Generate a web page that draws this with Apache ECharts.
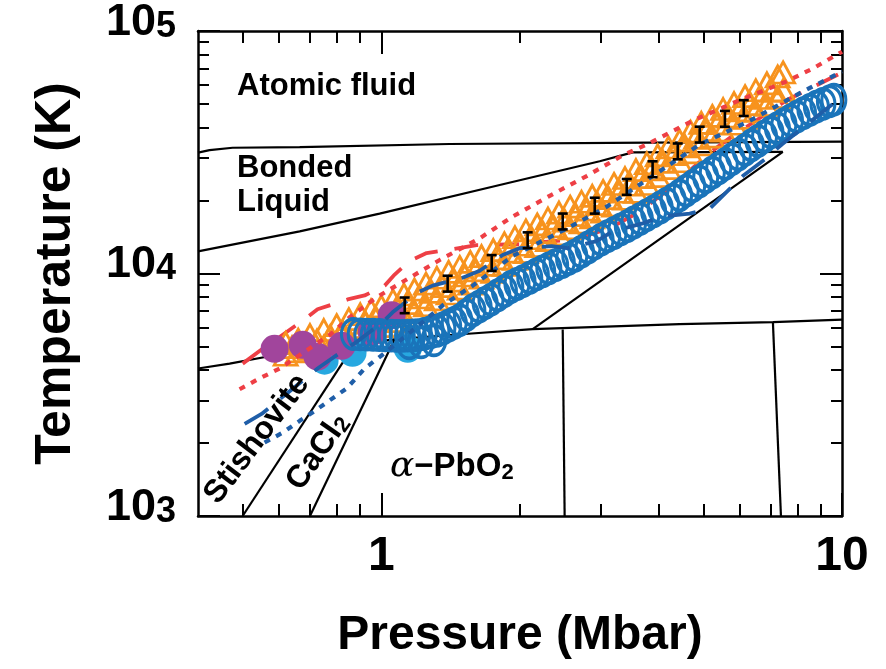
<!DOCTYPE html>
<html><head><meta charset="utf-8">
<script src="https://cdn.jsdelivr.net/npm/echarts@6/dist/echarts.min.js"></script>
<style>html,body{margin:0;padding:0;background:#fff}#c{width:886px;height:669px}</style>
</head><body><div id="c"></div>
<script>
// ---- axis ticks ----
const xMajorTicks = [1, 10];
const xTickLabels = ['1', '10'];
const xMinorTicks = [0.5, 0.6, 0.7, 0.8, 0.9, 2, 3, 4, 5, 6, 7, 8, 9];
const yMajorTicks = [1000, 10000, 100000];
const yTickExps = ['3', '4', '5'];
const yMinorTicks = [2000, 3000, 4000, 5000, 6000, 7000, 8000, 9000, 20000, 30000, 40000, 50000, 60000, 70000, 80000, 90000];

// ---- phase boundaries (P in Mbar, T in K) ----
const bndAtomic = [[0.4,31500],[0.4238,32260],[0.4755,33000],[0.665,33190],[1.406,34200],[3.82,34680],[10,35010]];
const bndBonded = [[0.4,12340],[0.665,14920],[0.9915,17660],[1.807,23180],[2.979,29030],[3.513,31580],[7.44,31730]];
const bndMelt = [[0.4,4056],[0.4685,4250],[0.5635,4538],[0.772,4984],[1.096,5373],[1.517,5630],[2.131,5900],[4.44,6183],[7.08,6300],[10,6450]];
const bndStiCaCl = [[0.5,1000],[0.8706,5031]];
const bndCaClPbO = [[0.70,1000],[1.069,5373]];
const bndPbOLiq = [[2.131,5900],[7.44,31730]];
const bndVert1 = [[2.476,5872],[2.5,1000]];
const bndVert2 = [[7.08,6300],[7.37,1000]];

// ---- orange open triangles ----
const triP = [0.62,0.66,0.70,0.75,0.80,0.85,0.90,0.95,1.00,1.06,1.12,1.18,1.25,1.32,1.40,1.48,1.56,1.65,1.75,1.85,1.95,2.06,2.18,2.30,2.43,2.57,2.72,2.87,3.03,3.20,3.38,3.57,3.77,3.98,4.20,4.44,4.69,4.95,5.23,5.52,5.83,6.16,6.50,6.87,7.25,7.45];
const triTUpper = [5174,5337,5577,5845,6125,6481,6791,7051,7320,7743,8190,8584,9081,9605,10160,10650,11160,11800,12490,13330,14110,15060,15940,16860,17830,18860,19760,20910,21910,23400,24760,26690,28490,30710,33090,35340,38450,41830,44670,47690,50460,53870,56980,60850,64990,67450];
const triTLower = [4624,4770,4892,4984,5224,5373,5577,5845,6069,6360,6664,6985,7389,7816,8268,8663,9081,9605,10160,10850,11480,12250,12960,13720,14510,15350,16230,17020,18000,19040,20330,21710,23400,25220,27190,29030,31580,34040,36680,38810,41440,43840,46800,49530,53370,56980];
const triPMid = [0.64,0.68,0.725,0.775,0.825,0.875,0.925,0.975,1.03,1.09,1.15,1.215,1.285,1.36,1.44,1.52,1.605,1.70,1.80,1.90,2.005,2.12,2.24,2.365,2.50,2.645,2.795,2.95,3.115,3.29,3.475,3.67,3.875,4.09,4.32,4.565,4.82,5.09,5.375,5.675,5.995,6.33,6.685,7.06];
const triTMid = [4968,5121,5298,5519,5762,6009,6265,6526,6832,7186,7553,7961,8402,8870,9352,9815,10300,10860,11540,12310,13140,13980,14800,15640,16520,17420,18350,19330,20450,21740,23230,24960,26840,28880,31020,33450,36260,39040,41640,44320,47080,49920,52920,56610];

// ---- blue open circles ----
const cirP = [0.87,0.90,0.93,0.96,0.99,1.02,1.05,1.08,1.11,1.14,1.17,1.20,1.24,1.28,1.32,1.36,1.40,1.44,1.48,1.53,1.58,1.63,1.68,1.73,1.79,1.85,1.91,1.97,2.03,2.10,2.17,2.24,2.31,2.39,2.47,2.55,2.63,2.72,2.81,2.90,3.00,3.10,3.20,3.31,3.42,3.53,3.65,3.77,3.90,4.03,4.16,4.30,4.44,4.59,4.74,4.90,5.06,5.23,5.40,5.58,5.77,5.96,6.16,6.36,6.57,6.79,7.01,7.24,7.48,7.73,7.98,8.25,8.52,8.80,9.09,9.39,9.60,1.15,1.22,1.30];
const cirT = [5630,5615,5600,5590,5577,5562,5546,5531,5531,5546,5562,5572,5640,5725,5806,5933,6097,6259,6426,6741,7058,7306,7556,7800,8137,8463,8797,9056,9306,9605,9915,10210,10500,10830,11160,11490,11840,12310,12800,13280,13800,14260,14700,15200,15680,16230,16810,17400,18050,18720,19420,20140,21010,21980,22940,23970,25000,26090,27160,28330,29630,30960,32360,33790,35210,36720,38230,39770,41250,42800,44380,45860,47300,48750,50090,51280,52100,5150,5200,5300];

// ---- filled circles ----
const lightBlueP = [0.753, 0.866, 1.141];
const lightBlueT = [4371, 4712, 4892];
const purpleP = [0.5865, 0.675, 0.727, 0.820, 0.953, 1.053];
const purpleT = [4892, 5078, 4538, 5031, 5738, 6727];

// ---- curves ----
const redDashed = [[0.5,4250],[0.5523,4892],[0.6015,5474],[0.6816,6481],[0.727,7117],[0.845,7816],[0.920,8117],[1.017,8913],[1.069,9897],[1.152,11260],[1.254,12140],[1.386,12490],[1.61,13090],[1.997,13210],[2.63,13840],[3.13,15350],[3.64,18000],[4.27,22750],[4.79,27700],[5.11,30990],[5.76,36680],[6.21,40290],[7.59,51900],[8.64,58610],[10,67480]];
const redDotted = [[0.4924,3332],[0.5443,3693],[0.6015,4056],[0.6816,4757],[0.772,5577],[0.8535,6602],[0.943,7600],[0.9915,8115],[1.152,9605],[1.339,11370],[1.635,13970],[1.928,17170],[2.32,20910],[2.79,25220],[3.34,30700],[3.77,34040],[4.74,42640],[6.00,51900],[7.59,62000],[8.64,70040],[10,82130]];
const blueDotted = [[0.558,2009],[0.6104,2205],[0.665,2468],[0.7165,2710],[0.8416,3363],[0.920,4056],[1.006,4624],[1.229,6300],[1.359,7389],[1.579,8911],[1.928,11800],[2.603,15780],[3.085,18860],[3.88,25220],[4.91,34040],[6.31,42640],[8.1,55410],[10,68100]];
const blueDashed = [[0.505,2399],[0.5496,2635],[0.6324,3268],[0.727,4056],[0.820,4757],[0.884,5224],[1.0065,6300],[1.058,6918],[1.199,8346],[1.292,8913],[1.501,9605],[1.635,10260],[1.834,11920],[1.997,12720],[2.343,12960],[2.539,12720],[2.934,13590],[3.18,14920],[3.694,16090],[4.06,17170],[4.67,17670],[5.16,18510],[5.705,22330],[6.09,25220],[6.80,29580],[7.40,34040],[8.22,39920],[9.18,47260],[10,53370]];

// ---- error-bar points ----
const errP = [1.124,1.393,1.736,2.078,2.476,2.906,3.41,3.88,4.40,4.91,5.57,6.12];
const errT = [7390,9082,11050,13710,16390,19040,22750,26920,31880,37390,43430,48100];
const errLo = [6860,8420,10250,12720,15200,17660,21100,24970,29570,34680,40280,44620];
const errHi = [7960,9790,11910,14780,17670,20530,24530,29020,34370,40310,46820,51850];

const FONT = '"Liberation Sans", Arial, Helvetica, sans-serif';
const zip = (a, b) => a.map((v, i) => [v, b[i]]);

function findIdx(arr, v) {
  return arr.findIndex(t => Math.abs(t - v) / t < 1e-6);
}

const baseX = {type: 'log', logBase: 10, min: 0.4, max: 10, gridIndex: 0, splitLine: {show: false}};
const baseY = {type: 'log', logBase: 10, min: 1000, max: 100000, gridIndex: 0, splitLine: {show: false}};
const tickStyle = {color: '#000', width: 2};
const frameLine = {show: true, onZero: false, lineStyle: {color: '#000', width: 2.5}};

const xAxis = [
  Object.assign({}, baseX, {position: 'bottom', axisLine: frameLine,
    axisTick: {show: true, inside: true, length: 23, lineStyle: tickStyle, customValues: xMajorTicks},
    axisLabel: {show: true, customValues: xMajorTicks, margin: 17, color: '#000', fontSize: 48, fontWeight: 'bold', fontFamily: FONT,
      formatter: v => { const i = findIdx(xMajorTicks, v); return i >= 0 ? xTickLabels[i] : ''; }},
    name: 'Pressure (Mbar)', nameLocation: 'middle', nameGap: 96,
    nameTextStyle: {color: '#000', fontSize: 48, fontWeight: 'bold', fontFamily: FONT}}),
  Object.assign({}, baseX, {position: 'bottom', axisLine: {show: false},
    axisTick: {show: true, inside: true, length: 12, lineStyle: tickStyle, customValues: xMinorTicks}, axisLabel: {show: false}}),
  Object.assign({}, baseX, {position: 'top', axisLine: frameLine,
    axisTick: {show: true, inside: true, length: 23, lineStyle: tickStyle, customValues: xMajorTicks}, axisLabel: {show: false}}),
  Object.assign({}, baseX, {position: 'top', axisLine: {show: false},
    axisTick: {show: true, inside: true, length: 12, lineStyle: tickStyle, customValues: xMinorTicks}, axisLabel: {show: false}})
];

const yAxis = [
  Object.assign({}, baseY, {position: 'left', axisLine: frameLine,
    axisTick: {show: true, inside: true, length: 22, lineStyle: tickStyle, customValues: yMajorTicks},
    axisLabel: {show: true, customValues: yMajorTicks, margin: 22, color: '#000', fontFamily: FONT,
      formatter: v => { const i = findIdx(yMajorTicks, v); return i >= 0 ? '{b|10}{s|' + yTickExps[i] + '}' : ''; },
      rich: {
        b: {fontSize: 45, fontWeight: 'bold', fontFamily: FONT, color: '#000', lineHeight: 44, verticalAlign: 'bottom', padding: [0, 0, 8, 0]},
        s: {fontSize: 36, fontWeight: 'bold', fontFamily: FONT, color: '#000', lineHeight: 36, verticalAlign: 'top', padding: [0, 0, 24, 0]}
      }},
    name: 'Temperature (K)', nameLocation: 'middle', nameGap: 117, nameRotate: 90,
    nameTextStyle: {color: '#000', fontSize: 50, fontWeight: 'bold', fontFamily: FONT}}),
  Object.assign({}, baseY, {position: 'left', axisLine: {show: false},
    axisTick: {show: true, inside: true, length: 11, lineStyle: tickStyle, customValues: yMinorTicks}, axisLabel: {show: false}}),
  Object.assign({}, baseY, {position: 'right', axisLine: frameLine,
    axisTick: {show: true, inside: true, length: 22, lineStyle: tickStyle, customValues: yMajorTicks}, axisLabel: {show: false}}),
  Object.assign({}, baseY, {position: 'right', axisLine: {show: false},
    axisTick: {show: true, inside: true, length: 11, lineStyle: tickStyle, customValues: yMinorTicks}, axisLabel: {show: false}})
];

function blackLine(data) {
  return {type: 'line', data: data, symbol: 'none', silent: true, z: 2,
    lineStyle: {color: '#000', width: 2.2}};
}

const triStyle = {color: 'rgba(0,0,0,0)', borderColor: '#f7931e', borderWidth: 2.8, opacity: 1};

const series = [
  blackLine(bndAtomic), blackLine(bndBonded), blackLine(bndMelt), blackLine(bndStiCaCl),
  blackLine(bndCaClPbO), blackLine(bndPbOLiq), blackLine(bndVert1), blackLine(bndVert2),
  {type: 'line', data: redDashed, symbol: 'none', z: 3,
    lineStyle: {color: '#ee3f45', width: 3.8, type: [24, 17], cap: 'butt'}},
  {type: 'scatter', data: zip(triP, triTUpper).concat(zip(triP, triTLower)), symbol: 'triangle', symbolSize: [23, 21], z: 4,
    itemStyle: triStyle},
  {type: 'scatter', data: zip(triPMid, triTMid), symbol: 'triangle', symbolSize: [23, 21], z: 4,
    itemStyle: triStyle},
  {type: 'scatter', data: zip(lightBlueP, lightBlueT), symbol: 'circle', symbolSize: 28, z: 5,
    itemStyle: {color: '#27a8e0', opacity: 1}},
  {type: 'scatter', data: zip(purpleP, purpleT), symbol: 'circle', symbolSize: 28, z: 6,
    itemStyle: {color: '#a1459c', opacity: 1}},
  {type: 'line', data: redDotted, symbol: 'none', z: 7,
    lineStyle: {color: '#ee3f45', width: 4.2, type: [6, 7], cap: 'butt'}},
  {type: 'scatter', data: zip(cirP, cirT), symbol: 'circle', symbolSize: [24, 30], z: 8,
    itemStyle: {color: 'rgba(0,0,0,0)', borderColor: '#1a74ba', borderWidth: 3.4, opacity: 1}},
  {type: 'line', data: blueDotted, symbol: 'none', z: 9,
    lineStyle: {color: '#1f5ea8', width: 4.2, type: [6, 7], cap: 'butt'}},
  {type: 'line', data: blueDashed, symbol: 'none', z: 10,
    lineStyle: {color: '#1f5ea8', width: 3.8, type: [28, 16], cap: 'butt'}},
  {type: 'custom', z: 11,
    data: errP.map((p, i) => [p, errT[i], errLo[i], errHi[i]]),
    encode: {x: 0, y: 1},
    renderItem: function (params, api) {
      const x = api.value(0);
      const pLo = api.coord([x, api.value(2)]);
      const pHi = api.coord([x, api.value(3)]);
      const cap = 5, st = {stroke: '#000', lineWidth: 2.6};
      return {type: 'group', children: [
        {type: 'line', shape: {x1: pLo[0], y1: pLo[1], x2: pHi[0], y2: pHi[1]}, style: st},
        {type: 'line', shape: {x1: pLo[0] - cap, y1: pLo[1], x2: pLo[0] + cap, y2: pLo[1]}, style: st},
        {type: 'line', shape: {x1: pHi[0] - cap, y1: pHi[1], x2: pHi[0] + cap, y2: pHi[1]}, style: st}
      ]};
    }}
];

const labelFont = 'bold 31px ' + FONT;
const graphic = [
  {type: 'text', left: 237, top: 71, z: 20, style: {text: 'Atomic fluid', font: labelFont, fill: '#000'}},
  {type: 'text', left: 237, top: 151, z: 20, style: {text: 'Bonded\nLiquid', font: labelFont, fill: '#000', lineHeight: 34}},
  {type: 'text', x: 257, y: 439, rotation: 53 * Math.PI / 180, z: 20,
    style: {text: 'Stishovite', font: 'bold 32px ' + FONT, fill: '#000', align: 'center', verticalAlign: 'middle'}},
  {type: 'text', x: 318, y: 452, rotation: 55 * Math.PI / 180, z: 20,
    style: {text: '{m|CaCl}{s|2}', fill: '#000', align: 'center', verticalAlign: 'middle',
      rich: {m: {font: 'bold 32px ' + FONT, fill: '#000', lineHeight: 32}, s: {font: 'bold 22px ' + FONT, fill: '#000', lineHeight: 22, verticalAlign: 'bottom', padding: [17, 0, 0, 0]}}}},
  {type: 'text', left: 390, top: 444, z: 20,
    style: {text: '{a|α}{m|−PbO}{s|2}', fill: '#000',
      rich: {a: {font: 'italic 36px "DejaVu Serif", "Liberation Serif", serif', fill: '#000', lineHeight: 34},
             m: {font: 'bold 33px ' + FONT, fill: '#000', lineHeight: 34},
             s: {font: 'bold 22px ' + FONT, fill: '#000', lineHeight: 22, verticalAlign: 'bottom', padding: [18, 0, 0, 0]}}}}
];

const chart = echarts.init(document.getElementById('c'), null, {renderer: 'canvas'});
chart.setOption({
  animation: false,
  backgroundColor: '#fff',
  grid: {left: 198, right: 44, top: 25, bottom: 153},
  xAxis: xAxis,
  yAxis: yAxis,
  series: series,
  graphic: graphic
});
</script>
</body></html>
